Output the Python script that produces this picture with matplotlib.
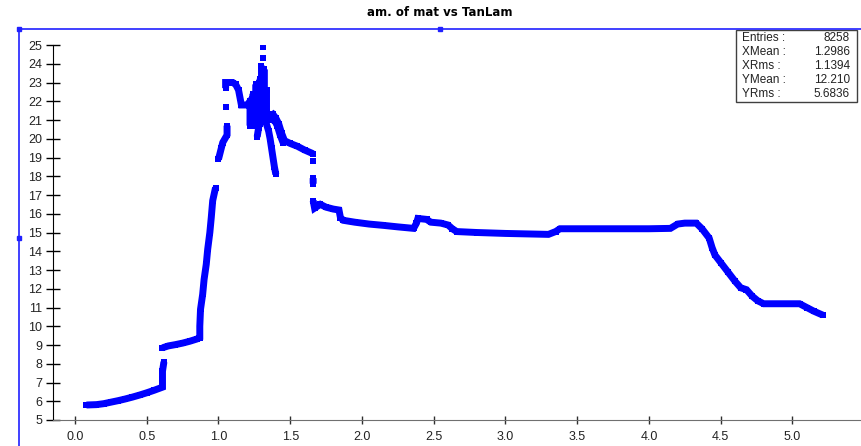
import numpy as np
import matplotlib
matplotlib.use('Agg')
import matplotlib.pyplot as plt
from matplotlib.lines import Line2D

nan = np.nan

# TanLam (x) vs amount of material (y); nan separates the drawn pieces
tan_lam = [0.08, 0.15, 0.20, 0.25, 0.30, 0.35, 0.40, 0.45, 0.50, 0.55, 0.61, 0.61, 0.61, 0.62, nan,
           0.61, 0.65, 0.70, 0.75, 0.80, 0.85, 0.87, 0.87, 0.875, 0.89, 0.90, 0.915, 0.925, 0.94, 0.95, 0.96, 0.98, nan,
           1.00, 1.02, 1.03, 1.06, 1.06, nan,
           1.05, nan,
           1.05, 1.05, 1.10, 1.12, 1.14, 1.15, 1.16, 1.20, 1.22, 1.24, nan,
           1.22, 1.22, nan, 1.24, 1.24, nan, 1.26, 1.26, nan, 1.28, 1.28, 1.27, nan,
           1.29, 1.29, nan, 1.30, 1.30, nan, 1.32, 1.32, 1.34, nan, 1.335, 1.335, nan,
           1.31, nan, 1.31, nan,
           1.34, 1.36, 1.38, 1.40, 1.42, 1.44, 1.46, 1.50, 1.55, 1.60, 1.66, nan,
           1.37, 1.39, 1.41, 1.43, 1.45, nan,
           1.33, 1.35, 1.36, 1.37, 1.38, 1.39, 1.40, nan,
           1.66, nan, 1.66, 1.66, nan,
           1.66, 1.67, 1.71, 1.75, 1.80, 1.84, 1.85, 1.87, 1.95, 2.05, 2.15, 2.25, 2.36, 2.38, 2.39, 2.45,
           2.48, 2.55, 2.60, 2.63, 2.66, 2.80, 3.00, 3.20, 3.30, 3.35, 3.38, 3.50, 4.00, 4.15, 4.20, 4.25,
           4.33, 4.37, 4.42, 4.44, 4.46, 4.50, 4.55, 4.60, 4.64, 4.68, 4.72, 4.76, 4.80, 4.90, 5.05, 5.10,
           5.15, 5.21]
amount = [5.80, 5.82, 5.87, 5.95, 6.03, 6.12, 6.22, 6.33, 6.45, 6.58, 6.75, 7.20, 7.60, 8.10, nan,
          8.85, 8.95, 9.02, 9.10, 9.20, 9.32, 9.40, 10.0, 10.9, 11.7, 12.5, 13.3, 14.1, 15.0, 15.8, 16.7, 17.4, nan,
          18.9, 19.5, 19.8, 20.2, 20.7, nan,
          21.7, nan,
          22.7, 23.0, 23.0, 22.9, 22.6, 22.2, 21.8, 21.8, 22.0, 22.2, nan,
          22.0, 20.7, nan, 22.4, 20.8, nan, 22.9, 20.7, nan, 23.0, 20.6, 20.1, nan,
          23.2, 20.8, nan, 23.9, 21.0, nan, 23.7, 21.8, 21.2, nan, 22.6, 21.0, nan,
          24.3, nan, 24.9, nan,
          21.2, 21.2, 21.3, 21.1, 20.8, 20.3, 19.9, 19.75, 19.6, 19.4, 19.2, nan,
          21.0, 21.0, 20.7, 20.2, 19.8, nan,
          20.9, 20.4, 20.0, 19.5, 19.0, 18.5, 18.1, nan,
          18.8, nan, 17.9, 17.6, nan,
          16.7, 16.3, 16.5, 16.35, 16.25, 16.2, 15.8, 15.65, 15.55, 15.45, 15.38, 15.3, 15.22, 15.5, 15.75, 15.7,
          15.55, 15.5, 15.4, 15.2, 15.05, 15.0, 14.95, 14.92, 14.9, 15.05, 15.2, 15.2, 15.2, 15.22, 15.45, 15.5,
          15.5, 15.2, 14.7, 14.2, 13.8, 13.4, 12.9, 12.4, 12.05, 11.95, 11.6, 11.35, 11.2, 11.2, 11.2, 11.0,
          10.8, 10.6]

stats_labels = ['Entries :', 'XMean :', 'XRms :', 'YMean :', 'YRms :']
stats_values = ['8258', '1.2986', '1.1394', '12.210', '5.6836']

W, H = 861, 446
fig = plt.figure(figsize=(W / 100, H / 100), dpi=100)
plt.rcParams['font.family'] = ['Liberation Sans', 'DejaVu Sans']

# axes box in pixels: left 53, right 861, top 45, bottom 420
ax = fig.add_axes([53 / W, 1 - 420 / H, (861 - 53) / W, (420 - 45) / H])
ax.plot(tan_lam, amount, color='#0000ff', lw=5.0, marker='s', ms=4.3, mew=0,
        solid_joinstyle='miter', solid_capstyle='butt')

ax.set_xlim(-0.153, 5.478)
ax.set_ylim(5, 25)
ax.set_xticks(np.arange(0, 5.01, 0.5))
ax.set_xticklabels(['%.1f' % v for v in np.arange(0, 5.01, 0.5)])
ax.set_yticks(range(5, 26))

for s in ['top', 'right']:
    ax.spines[s].set_visible(False)
ax.spines['left'].set_color('black')
ax.spines['bottom'].set_color('#707070')
ax.tick_params(axis='y', direction='inout', length=9.5, width=1, color='black',
               labelsize=9, labelcolor='#222222', pad=3)
ax.tick_params(axis='x', direction='inout', length=6, width=1, color='#303030',
               labelsize=9, labelcolor='#222222', pad=5)

# title
fig.text(440 / W, 1 - 13 / H, 'am. of mat vs TanLam', ha='center', va='center',
         fontsize=8.5, fontweight='bold', family=['DejaVu Sans'])

# blue selection frame
fig.add_artist(Line2D([19 / W, 19 / W], [1 - 29 / H, 0], transform=fig.transFigure,
                      color='#2020ff', lw=1.2))
fig.add_artist(Line2D([19 / W, 1], [1 - 29 / H, 1 - 29 / H], transform=fig.transFigure,
                      color='#2020ff', lw=1.2))
fig.add_artist(Line2D([19 / W, 19 / W, 440 / W], [1 - 29 / H, 1 - 238 / H, 1 - 29 / H],
                      transform=fig.transFigure, ls='none', marker='s', ms=3.2,
                      color='#2020ff'))

# stats box
box = plt.Rectangle((736 / W, 1 - 102 / H), (857 - 736) / W, (102 - 30) / H,
                    transform=fig.transFigure, fill=True, facecolor='white',
                    edgecolor='#404040', lw=1)
fig.add_artist(box)
for i, (lab, val) in enumerate(zip(stats_labels, stats_values)):
    yy = 1 - (38 + 14 * i) / H
    fig.text(742 / W, yy, lab, ha='left', va='center', fontsize=8.5, color='#222222')
    fig.text(850 / W, yy, val, ha='right', va='center', fontsize=8.5, color='#222222')

fig.savefig('out.png', dpi=100)
